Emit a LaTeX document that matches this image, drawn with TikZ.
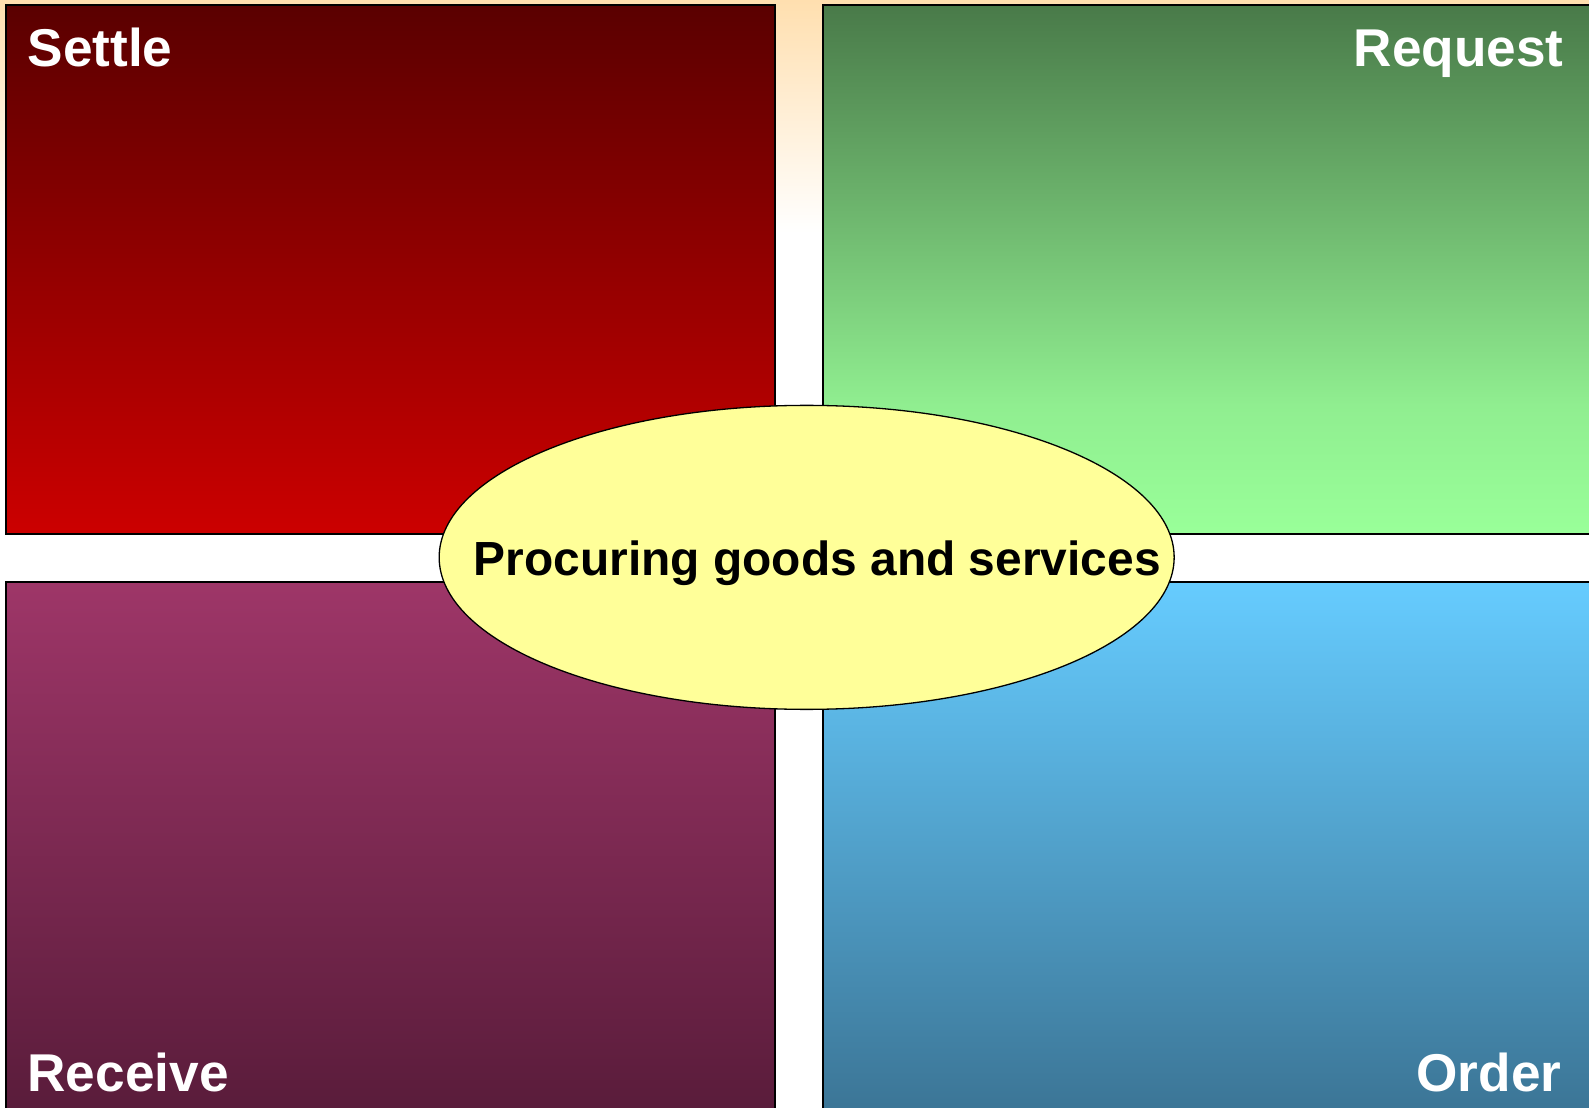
\documentclass[tikz,border=0pt]{standalone}
\usepackage{fontspec}
\setmainfont{Liberation Sans}
\usetikzlibrary{shapes.geometric}
\definecolor{bgtop}{HTML}{FFDFAF}
\definecolor{settletop}{HTML}{5A0000}
\definecolor{settlebot}{HTML}{CC0000}
\definecolor{reqtop}{HTML}{497A49}
\definecolor{reqmid}{HTML}{90EE90}
\definecolor{reqbot}{HTML}{99FF99}
\definecolor{rectop}{HTML}{9E3668}
\definecolor{recbot}{HTML}{571B39}
\definecolor{ordtop}{HTML}{66CCFF}
\definecolor{ordmid}{HTML}{58ACDA}
\definecolor{ordbot}{HTML}{3A7292}
\definecolor{ellfill}{HTML}{FFFF99}
\tikzset{
  quad/.style={draw=black,line width=1.9pt},
  quadlabel/.style={text=white,font=\bfseries\fontsize{53.2}{62}\selectfont,inner sep=0pt},
}
\begin{document}
\begin{tikzpicture}[x=1.0134pt,y=-1.0134pt]
\useasboundingbox (0,0) rectangle (1568,1092.4);
\clip (0,0) rectangle (1568,1092.4);
\fill[white] (0,0) rectangle (1568,1092.4);
\fill[top color=bgtop,bottom color=white] (0,0) rectangle (1568,230);
% quadrants
\path[quad,top color=settletop,bottom color=settlebot] (6,5) rectangle (765,527);
\fill[top color=reqtop,bottom color=reqmid] (812,5) rectangle (1600,400);
\fill[top color=reqmid,bottom color=reqbot] (812,399) rectangle (1600,527);
\draw[quad] (812,5) rectangle (1600,527);
\path[quad,top color=rectop,bottom color=recbot] (6,574) rectangle (765,1115);
\path[quad,top color=ordtop,middle color=ordmid,bottom color=ordbot] (812,574) rectangle (1600,1115);
% labels
\node[quadlabel,anchor=base west] (settle) at (27,66) {Settle};
\node[quadlabel,anchor=base east] (request) at (1543,66) {Request};
\node[quadlabel,anchor=base west] (receive) at (27,1077) {Receive};
\node[quadlabel,anchor=base east] (order) at (1541,1077) {Order};
% center ellipse
\node[ellipse,draw=black,line width=1.3pt,fill=ellfill,minimum width=735pt,minimum height=304pt,inner sep=0pt] (center) at (796,550) {};
\node[font=\bfseries\fontsize{47.9}{56}\selectfont,anchor=base,inner sep=0pt] (title) at (806.5,568) {Procuring goods and services};
\end{tikzpicture}
\end{document}
